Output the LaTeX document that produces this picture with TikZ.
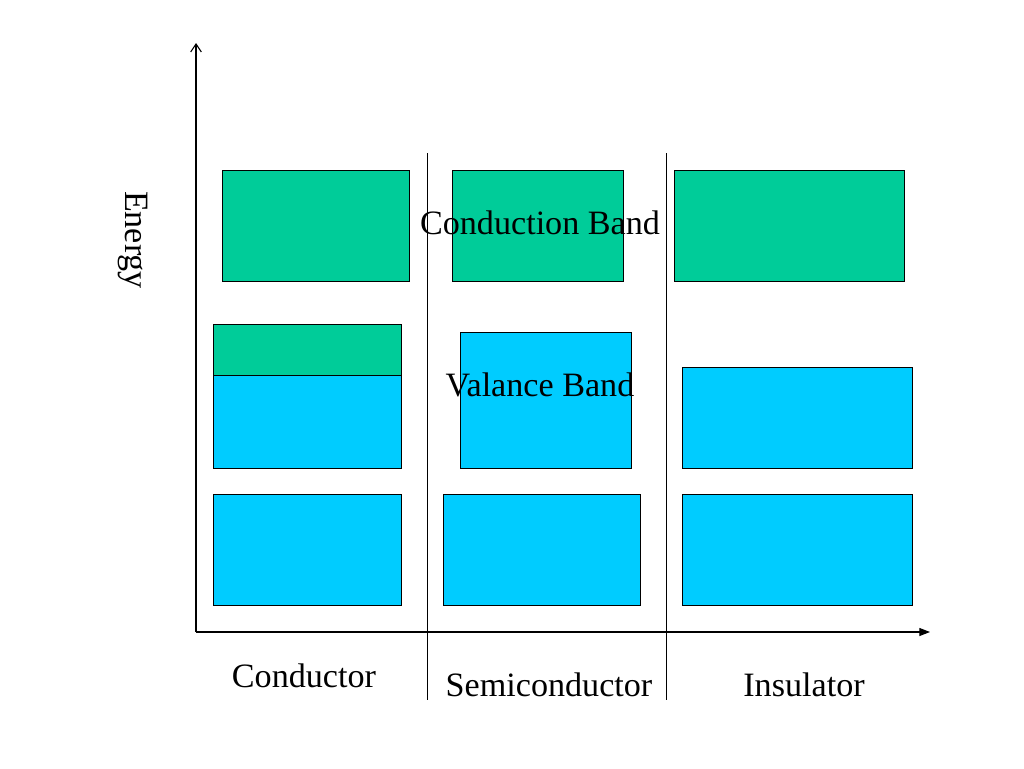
\documentclass[tikz,border=0pt]{standalone}
\usepackage{fontspec}
\setmainfont{Liberation Serif}
\usetikzlibrary{arrows.meta}
\definecolor{cband}{HTML}{00CC99}
\definecolor{vband}{HTML}{00CCFF}
\begin{document}
\begin{tikzpicture}[x=0.75pt,y=-0.75pt,
  band/.style={draw=black,line width=0.6pt},
  lbl/.style={font=\fontsize{25.6}{30}\selectfont,inner sep=0pt},
  axis/.style={line width=0.8pt,-{Straight Barb[length=6pt,width=8pt]}},
  xaxis/.style={line width=0.8pt,-{Triangle[length=8pt,width=6pt]}}]
\useasboundingbox (0,0) rectangle (1024,768);
% axes
\coordinate (o) at (196,632);
\coordinate (ytop) at (196,43);
\coordinate (xend) at (930,632);
\draw[axis] (o) -- (ytop);
\draw[xaxis] (o) -- (xend);
% dividers
\coordinate (d1a) at (427,153); \coordinate (d1b) at (427,700);
\coordinate (d2a) at (666,153); \coordinate (d2b) at (666,700);
\draw[line width=0.6pt] (d1a) -- (d1b);
\draw[line width=0.6pt] (d2a) -- (d2b);
% conductor
\draw[band,fill=cband] (222,170) rectangle (409,281);
\draw[band,fill=cband] (213,324) rectangle (401,375);
\draw[band,fill=vband] (213,375) rectangle (401,468);
\draw[band,fill=vband] (213,494) rectangle (401,605);
% semiconductor
\draw[band,fill=cband] (452,170) rectangle (623,281);
\draw[band,fill=vband] (460,332) rectangle (631,468);
\draw[band,fill=vband] (443,494) rectangle (640,605);
% insulator
\draw[band,fill=cband] (674,170) rectangle (904,281);
\draw[band,fill=vband] (682,367) rectangle (912,468);
\draw[band,fill=vband] (682,494) rectangle (912,605);
% labels
\node[lbl] (cb) at (540,223) {Conduction Band};
\node[lbl] (vb) at (540,385) {Valance Band};
\node[lbl] (cond) at (304,676) {Conductor};
\node[lbl] (semi) at (549,685) {Semiconductor};
\node[lbl] (ins) at (804,685) {Insulator};
\node[lbl,rotate=-90] (en) at (133,240) {Energy};
\end{tikzpicture}
\end{document}
